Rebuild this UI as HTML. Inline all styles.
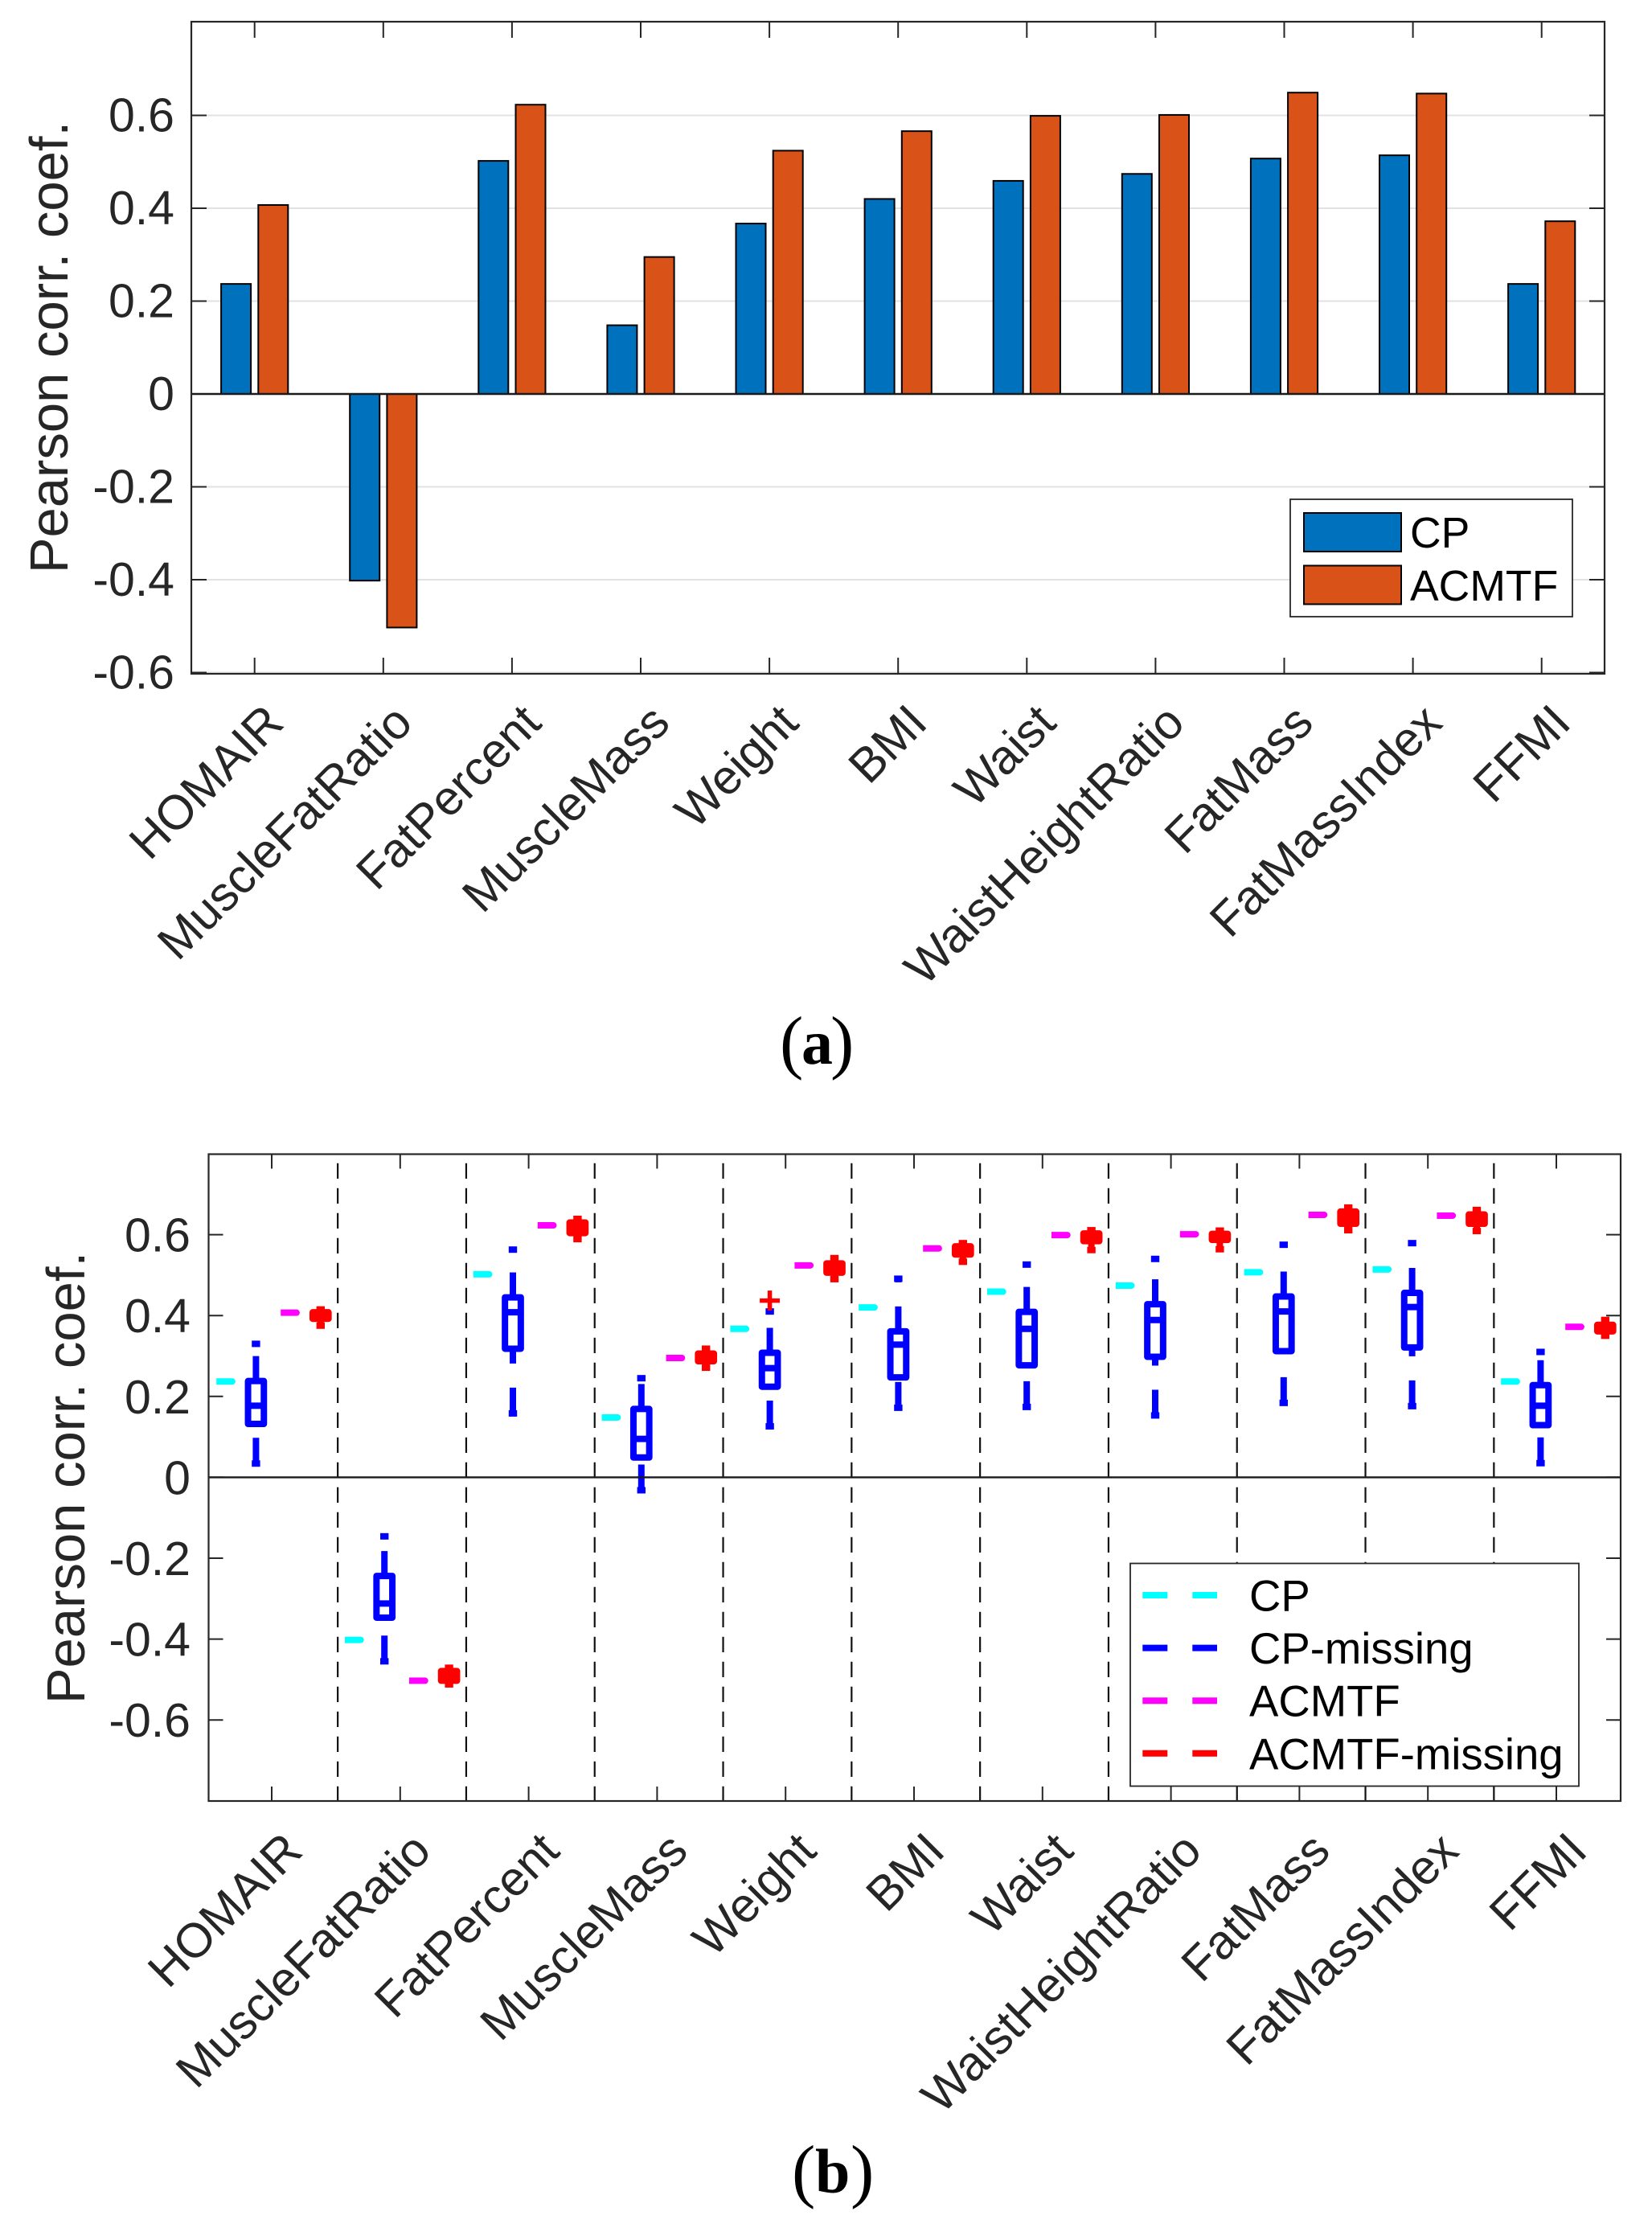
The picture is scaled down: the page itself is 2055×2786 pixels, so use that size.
<!DOCTYPE html>
<html lang="en">
<head>
<meta charset="utf-8">
<title>Pearson correlation coefficients</title>
<style>
html,body{margin:0;padding:0;background:#fff;width:2055px;height:2786px;overflow:hidden}
svg{display:block;position:absolute;left:0;top:0}
text{font-family:"Liberation Sans",sans-serif}
.caption{font-family:"Liberation Serif",serif;font-weight:bold;font-size:78px;fill:#000}
.caption .paren{font-size:88px;font-weight:normal}
</style>
</head>
<body>
<svg id="fig" xmlns="http://www.w3.org/2000/svg" width="2055" height="2786" viewBox="0 0 2055 2786">
  <rect x="0" y="0" width="2055" height="2786" fill="#fff"/>
  <g id="panelA"></g>
  <g id="panelB"></g>
  <text class="caption" y="1323"><tspan class="paren" x="970" y="1325">(</tspan><tspan x="997" y="1323">a</tspan><tspan class="paren" x="1033" y="1325">)</tspan></text>
  <text class="caption" y="2727"><tspan class="paren" x="985" y="2729">(</tspan><tspan x="1014" y="2727">b</tspan><tspan class="paren" x="1058" y="2729">)</tspan></text>
</svg>
<script>
const categories = ["HOMAIR","MuscleFatRatio","FatPercent","MuscleMass","Weight","BMI","Waist","WaistHeightRatio","FatMass","FatMassIndex","FFMI"];
const yTickValues = [0.6,0.4,0.2,0,-0.2,-0.4,-0.6];
const yTickLabels = ["0.6","0.4","0.2","0","-0.2","-0.4","-0.6"];

/* panel (a) bars */
const cpValues    = [0.237,-0.402,0.502,0.148,0.367,0.420,0.459,0.474,0.507,0.514,0.237];
const acmtfValues = [0.407,-0.503,0.623,0.295,0.524,0.566,0.599,0.601,0.649,0.647,0.372];

/* panel (b) box statistics */
const cpMissingHigh   = [0.330,-0.146,0.563,0.245,0.410,0.491,0.526,0.540,0.575,0.579,0.310];
const cpMissingQ3     = [0.238,-0.244,0.445,0.169,0.308,0.361,0.409,0.428,0.447,0.456,0.228];
const cpMissingMedian = [0.177,-0.312,0.408,0.095,0.270,0.328,0.367,0.389,0.410,0.421,0.177];
const cpMissingQ1     = [0.132,-0.347,0.318,0.049,0.224,0.247,0.277,0.298,0.312,0.321,0.129];
const cpMissingLow    = [0.034,-0.455,0.158,-0.032,0.126,0.172,0.174,0.153,0.184,0.176,0.035];
const acmtfMissingHigh   = [0.415,-0.471,0.639,0.318,0.542,0.579,0.611,0.610,0.667,0.661,0.389];
const acmtfMissingQ3     = [0.408,-0.479,0.630,0.306,0.529,0.571,0.603,0.602,0.657,0.650,0.377];
const acmtfMissingMedian = [0.400,-0.491,0.617,0.297,0.518,0.561,0.593,0.594,0.642,0.640,0.370];
const acmtfMissingQ1     = [0.392,-0.503,0.604,0.287,0.506,0.551,0.584,0.587,0.627,0.627,0.361];
const acmtfMissingLow    = [0.375,-0.512,0.589,0.271,0.490,0.533,0.562,0.564,0.611,0.609,0.350];
const cpMissingOutlierGroup = 4;
const cpMissingOutlierValue = 0.437;

const NS = "http://www.w3.org/2000/svg";
const INK = "#262626";
function mk(tag, parent, attrs){
  const e = document.createElementNS(NS, tag);
  for (const k in attrs) e.setAttribute(k, attrs[k]);
  parent.appendChild(e);
  return e;
}

/* ---------- panel (a) ---------- */
(function(){
  const root = document.getElementById("panelA");
  const L = 238, R = 1996, T = 27, B = 838;
  const yA = v => 490 - v * 577.5;
  const xA = i => 316.7 + 160.1 * i;

  yTickValues.forEach(function(v, i){
    if (v !== 0) {
      const g = mk("line", root, {x1:L, x2:R, y1:yA(v), y2:yA(v), stroke:"#e2e2e2", "stroke-width":2});
      
      
    }
    const tl = mk("line", root, {x1:L, x2:L+19, y1:yA(v), y2:yA(v), stroke:INK, "stroke-width":2});
    
    
    const tr = mk("line", root, {x1:R-19, x2:R, y1:yA(v), y2:yA(v), stroke:INK, "stroke-width":2});
    
    
    const t = mk("text", root, {x:217, y:yA(v)+20, "text-anchor":"end", "font-size":59, fill:INK});
    t.textContent = yTickLabels[i];
    
    
  });

  categories.forEach(function(c, i){
    const t1 = mk("line", root, {x1:xA(i), x2:xA(i), y1:T, y2:T+20, stroke:INK, "stroke-width":2});
    
    
    const t2 = mk("line", root, {x1:xA(i), x2:xA(i), y1:B-20, y2:B, stroke:INK, "stroke-width":2});
    
    

    const y0 = yA(0);
    const bw = 37;
    const b1 = mk("rect", root, {x:xA(i)-23.1-bw/2, width:bw, y:Math.min(yA(cpValues[i]),y0), height:Math.abs(yA(cpValues[i])-y0), fill:"#0072BD", stroke:"#000", "stroke-width":2});
    
    
    const b2 = mk("rect", root, {x:xA(i)+23.1-bw/2, width:bw, y:Math.min(yA(acmtfValues[i]),y0), height:Math.abs(yA(acmtfValues[i])-y0), fill:"#D95319", stroke:"#000", "stroke-width":2});
    
    

    const lx = xA(i)+39, ly = B+64;
    const t = mk("text", root, {x:lx, y:ly, "text-anchor":"end", "font-size":60, fill:INK, transform:"rotate(-45 "+lx+" "+ly+")"});
    t.textContent = c;
    
    
  });

  const zero = mk("line", root, {x1:L, x2:R, y1:yA(0), y2:yA(0), stroke:"#1a1a1a", "stroke-width":2.4});
  
  
  const frame = mk("rect", root, {x:L, y:T, width:R-L, height:B-T, fill:"none", stroke:INK, "stroke-width":2.2});
  
  

  const yl = mk("text", root, {x:84, y:432, "text-anchor":"middle", "font-size":67, fill:INK, transform:"rotate(-90 84 432)"});
  yl.textContent = "Pearson corr. coef.";
  
  

  const lg = mk("g", root, {});
  
  
  const lb = mk("rect", lg, {x:1605, y:621, width:351, height:146, fill:"#fff", stroke:INK, "stroke-width":1.8});
  
  
  const s1 = mk("rect", lg, {x:1622, y:638, width:121, height:48, fill:"#0072BD", stroke:"#000", "stroke-width":2});
  
  
  const s2 = mk("rect", lg, {x:1622, y:703.5, width:121, height:48, fill:"#D95319", stroke:"#000", "stroke-width":2});
  
  
  const l1 = mk("text", lg, {x:1754, y:681, "font-size":53.5, fill:"#000"});
  l1.textContent = "CP";
  
  
  const l2 = mk("text", lg, {x:1754, y:747, "font-size":53.5, fill:"#000"});
  l2.textContent = "ACMTF";
  
  
})();

/* ---------- panel (b) ---------- */
(function(){
  const root = document.getElementById("panelB");
  const L = 259.5, R = 2016, T = 1435.5, B = 2240;
  const yB = v => 1837.4 - v * 503;
  const xB = i => 338 + 159.8 * i;
  const OFF_CP = -57, OFF_CPM = -19.6, OFF_AC = 23, OFF_ACM = 60.8;
  const W = 8;

  categories.forEach(function(c, i){
    const t1 = mk("line", root, {x1:xB(i), x2:xB(i), y1:T, y2:T+18, stroke:INK, "stroke-width":2});
    
    
    const t2 = mk("line", root, {x1:xB(i), x2:xB(i), y1:B-18, y2:B, stroke:INK, "stroke-width":2});
    
    
    if (i < categories.length - 1) {
      const sx = xB(i + 0.514);
      const sep = mk("line", root, {x1:sx, x2:sx, y1:1446.7, y2:B, stroke:"#111", "stroke-width":2.2, "stroke-dasharray":"19.3 11.7"});
      
      
    }
    const lx = xB(i)+41, ly = B+65;
    const t = mk("text", root, {x:lx, y:ly, "text-anchor":"end", "font-size":60, fill:INK, transform:"rotate(-45 "+lx+" "+ly+")"});
    t.textContent = c;
    
    
  });

  yTickValues.forEach(function(v, i){
    const tl = mk("line", root, {x1:L, x2:L+18, y1:yB(v), y2:yB(v), stroke:INK, "stroke-width":2});
    
    
    const tr = mk("line", root, {x1:R-18, x2:R, y1:yB(v), y2:yB(v), stroke:INK, "stroke-width":2});
    
    
    const t = mk("text", root, {x:237, y:yB(v)+21, "text-anchor":"end", "font-size":59, fill:INK});
    t.textContent = yTickLabels[i];
    
    
  });

  function drawBox(cx, hi, q3, med, q1, lo, color, name){
    const g = mk("g", root, {});
    
    
    mk("line", g, {x1:cx, x2:cx, y1:yB(q3), y2:yB(hi), stroke:color, "stroke-width":W, "stroke-dasharray":"31 30"});
    mk("line", g, {x1:cx, x2:cx, y1:yB(lo), y2:yB(q1), stroke:color, "stroke-width":W, "stroke-dasharray":"32 30"});
    mk("line", g, {x1:cx-5.2, x2:cx+5.2, y1:yB(hi), y2:yB(hi), stroke:color, "stroke-width":W});
    mk("line", g, {x1:cx-5.2, x2:cx+5.2, y1:yB(lo), y2:yB(lo), stroke:color, "stroke-width":W});
    mk("rect", g, {x:cx-9.85, width:19.7, y:yB(q3), height:yB(q1)-yB(q3), fill:"none", stroke:color, "stroke-width":W, "stroke-linejoin":"round"});
    mk("line", g, {x1:cx-9.85, x2:cx+9.85, y1:yB(med), y2:yB(med), stroke:color, "stroke-width":W});
  }
  function drawDash(cx, v, color, name){
    const y = yB(v), x0 = cx-11.8, x1 = cx+7.9;
    const d = mk("path", root, {d:"M"+x0+" "+(y-4)+"H"+x1+"a4 4 0 0 1 0 8H"+x0+"Z", fill:color});
    
    
  }

  categories.forEach(function(c, i){
    drawDash(xB(i)+OFF_CP, cpValues[i], "#00ffff", "cp-marker");
    drawBox(xB(i)+OFF_CPM, cpMissingHigh[i], cpMissingQ3[i], cpMissingMedian[i], cpMissingQ1[i], cpMissingLow[i], "#0000ff", "cp-missing-box");
    drawDash(xB(i)+OFF_AC, acmtfValues[i], "#ff00ff", "acmtf-marker");
    drawBox(xB(i)+OFF_ACM, acmtfMissingHigh[i], acmtfMissingQ3[i], acmtfMissingMedian[i], acmtfMissingQ1[i], acmtfMissingLow[i], "#ff0000", "acmtf-missing-box");
  });

  const ox = xB(cpMissingOutlierGroup)+OFF_CPM, oy = yB(cpMissingOutlierValue);
  const outlier = mk("path", root, {d:"M"+(ox-12.5)+" "+oy+"H"+(ox+12.5)+"M"+ox+" "+(oy-12.5)+"V"+(oy+12.5), stroke:"#ff0000", "stroke-width":5.5, fill:"none"});
  
  

  const zero = mk("line", root, {x1:L, x2:R, y1:yB(0), y2:yB(0), stroke:"#1a1a1a", "stroke-width":2.4});
  
  
  const frame = mk("rect", root, {x:L, y:T, width:R-L, height:B-T, fill:"none", stroke:INK, "stroke-width":2.2});
  
  

  const yl = mk("text", root, {x:105, y:1838, "text-anchor":"middle", "font-size":67, fill:INK, transform:"rotate(-90 105 1838)"});
  yl.textContent = "Pearson corr. coef.";
  
  

  const lg = mk("g", root, {});
  
  
  const lb = mk("rect", lg, {x:1406, y:1944.5, width:558, height:277, fill:"#fff", stroke:INK, "stroke-width":1.8});
  
  
  const legendNames = ["CP","CP-missing","ACMTF","ACMTF-missing"];
  const legendColors = ["#00ffff","#0000ff","#ff00ff","#ff0000"];
  legendNames.forEach(function(n, i){
    const ly = 1984 + 65.6 * i;
    const s = mk("line", lg, {x1:1421.3, x2:1514, y1:ly, y2:ly, stroke:legendColors[i], "stroke-width":8, "stroke-dasharray":"31 31 31"});
    
    
    const t = mk("text", lg, {x:1554, y:ly+19.5, "font-size":54.5, fill:"#000"});
    t.textContent = n;
    
    
  });
})();
</script>
</body>
</html>
